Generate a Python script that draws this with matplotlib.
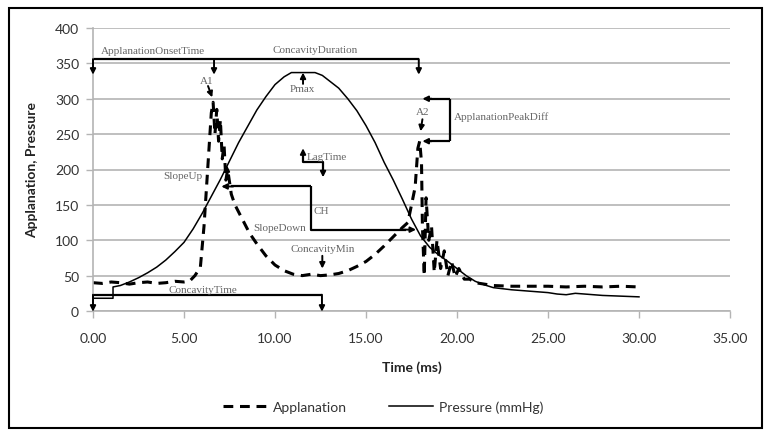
import matplotlib
matplotlib.use("Agg")
import matplotlib.pyplot as plt
from matplotlib.patches import Rectangle

# ---------------- data ----------------
pressure_t = [0, 1.1, 1.1, 1.5, 2.0, 2.5, 3.0, 3.5, 4.0, 4.5, 5.0, 5.5, 6.0, 6.5, 7.0,
              7.5, 8.0, 8.5, 9.0, 9.5, 10.0, 10.5, 10.9, 11.5, 12.2, 12.6, 13.0, 13.5,
              14.0, 14.5, 15.0, 15.5, 16.0, 16.5, 17.0, 17.5, 18.0, 18.5, 19.0, 19.5,
              20.0, 20.5, 21.0, 21.5, 22.0, 23.0, 24.0, 25.0, 25.5, 26.0, 26.5, 27.0,
              28.0, 29.0, 30.0]
pressure_v = [18, 18, 34, 36, 41, 47, 54, 62, 72, 84, 97, 116, 138, 162, 186,
              212, 238, 261, 284, 303, 320, 331, 337, 337, 337, 333, 325, 315,
              300, 283, 262, 238, 210, 185, 158, 130, 106, 90, 79, 70,
              60, 50, 42, 37, 33, 30, 28, 26, 24, 23, 25, 24,
              22, 21, 20]

applan_t = [0, 0.5, 1.0, 1.5, 2.0, 2.5, 3.0, 3.5, 4.0, 4.5, 5.0, 5.3, 5.6, 5.9,
            6.1, 6.3, 6.5, 6.6, 6.7, 6.8, 6.9, 7.0, 7.1, 7.2, 7.3, 7.4, 7.6, 7.8,
            8.0, 8.3, 8.6, 9.0, 9.5, 10.0, 10.5, 11.0, 11.5, 12.0, 12.5, 13.0, 13.5,
            14.0, 14.5, 15.0, 15.5, 16.0, 16.5, 17.0, 17.3, 17.5, 17.7, 17.85, 17.95,
            18.05, 18.1, 18.2, 18.3, 18.45, 18.6, 18.75, 18.9, 19.1, 19.3, 19.5,
            19.7, 19.9, 20.1, 20.4, 20.7, 21.0, 21.5, 22.0, 23.0, 24.0, 25.0, 26.0,
            27.0, 28.0, 29.0, 30.0]
applan_v = [40, 39, 41, 40, 38, 40, 41, 39, 40, 42, 41, 42, 50, 62,
            120, 200, 280, 295, 250, 285, 240, 270, 215, 235, 185, 200, 165, 150,
            140, 125, 110, 95, 78, 65, 57, 52, 50, 52, 50, 51, 53,
            57, 63, 70, 80, 92, 105, 118, 125, 150, 175, 230, 240,
            210, 120, 50, 160, 100, 120, 55, 100, 60, 85, 50,
            70, 48, 60, 45, 45, 40, 38, 36, 35, 35, 35, 34,
            35, 34, 35, 34]

x_ticks = [0, 5, 10, 15, 20, 25, 30, 35]
y_ticks = [0, 50, 100, 150, 200, 250, 300, 350, 400]

# annotation labels: (text, x, y, ha)
labels = [
    ("ApplanationOnsetTime", 3.3, 368, "center"),
    ("ConcavityDuration", 12.2, 370, "center"),
    ("A1", 6.25, 326, "center"),
    ("Pmax", 11.5, 314, "center"),
    ("A2", 18.1, 282, "center"),
    ("ApplanationPeakDiff", 19.85, 276, "left"),
    ("LagTime", 11.75, 219, "left"),
    ("SlopeUp", 6.0, 191, "right"),
    ("CH", 12.1, 142, "left"),
    ("SlopeDown", 8.8, 118, "left"),
    ("ConcavityMin", 12.6, 88, "center"),
    ("ConcavityTime", 6.05, 31, "center"),
]
# connector polylines (no arrowheads)
connectors = [
    ([0, 17.9], [356, 356]),
    ([19.6, 19.6], [300, 240]),
    ([19.6, 18.5], [300, 300]),
    ([19.6, 18.5], [240, 240]),
    ([11.54, 11.54, 12.64, 12.64], [222, 211, 211, 198]),
    ([12.0, 12.0, 17.2], [176, 115, 115]),
    ([12.0, 7.6], [176, 176]),
    ([0, 12.58], [23, 23]),
]
# arrows: (x_from, y_from, x_to, y_to)
arrows = [
    (0, 356, 0, 334), (6.65, 356, 6.65, 334), (17.9, 356, 17.9, 334),
    (6.32, 318, 6.55, 302),
    (11.54, 321, 11.54, 337),
    (18.1, 271, 18.0, 254),
    (18.6, 300, 18.1, 300), (18.6, 240, 18.1, 240),
    (11.54, 214, 11.54, 230),
    (12.64, 200, 12.64, 189),
    (7.7, 176, 7.05, 176),
    (17.1, 115, 17.75, 115),
    (7.36, 192, 7.36, 206),
    (12.6, 78, 12.6, 60),
    (0, 23, 0, -1), (12.58, 23, 12.58, -1),
]

# ---------------- figure ----------------
W, H = 772, 439
fig = plt.figure(figsize=(W / 100, H / 100), dpi=100)
ax = fig.add_axes([93 / W, 1 - 312 / H, (730 - 93) / W, (312 - 29) / H])

grid_c = "#b4b4b4"
ax.set_xlim(0, 35)
ax.set_ylim(0, 400)
ax.set_xticks(x_ticks)
ax.set_yticks(y_ticks)
ax.set_xticklabels([f"{v:.2f}" for v in x_ticks])
ax.set_yticklabels([str(v) for v in y_ticks])
ax.grid(axis="y", color=grid_c, lw=1.2)
ax.set_axisbelow(True)
for s in ["top", "right"]:
    ax.spines[s].set_visible(False)
for s in ["left", "bottom"]:
    ax.spines[s].set_color(grid_c)
    ax.spines[s].set_linewidth(1.2)
ax.tick_params(axis="both", colors=grid_c, length=5, width=1, labelcolor="#333333",
               labelsize=10)
for lab in ax.get_xticklabels() + ax.get_yticklabels():
    lab.set_fontfamily("Lato")
ax.tick_params(axis="x", pad=10)
ax.tick_params(axis="y", pad=5)

la, = ax.plot(applan_t, applan_v, color="black", lw=2.2, linestyle=(0, (3.2, 2.2)),
              label="Applanation")
lp, = ax.plot(pressure_t, pressure_v, color="black", lw=1.1, label="Pressure (mmHg)")

ax.set_xlabel("Time (ms)", fontfamily="Lato", fontweight="bold", fontsize=10,
              color="#222222", labelpad=12)
ax.set_ylabel("Applanation, Pressure", fontfamily="Lato", fontweight="bold",
              fontsize=10, color="#222222", labelpad=12)

for txt, x, y, ha in labels:
    ax.text(x, y, txt, ha=ha, va="center", fontfamily="Liberation Serif",
            fontsize=8, color="#666666", clip_on=False)
for xs, ys in connectors:
    ax.plot(xs, ys, color="black", lw=1.6, solid_capstyle="butt", clip_on=False)
for x0, y0, x1, y1 in arrows:
    ax.annotate("", xy=(x1, y1), xytext=(x0, y0), annotation_clip=False,
                arrowprops=dict(arrowstyle="-|>", color="black", lw=1.4,
                                mutation_scale=8, shrinkA=0, shrinkB=0))

leg = fig.legend(handles=[la, lp], loc="center", bbox_to_anchor=(383 / W, 1 - 408 / H),
                 ncol=2, frameon=False, prop={"family": "Lato", "size": 10},
                 handlelength=3.2, columnspacing=3.0, handletextpad=0.4)
for t in leg.get_texts():
    t.set_color("#333333")

fig.patches.append(Rectangle((9 / W, 1 - 429 / H), (762 - 9) / W, (429 - 9) / H,
                             transform=fig.transFigure, fill=False, ec="black", lw=1.5))

fig.savefig("out.png", dpi=100)
